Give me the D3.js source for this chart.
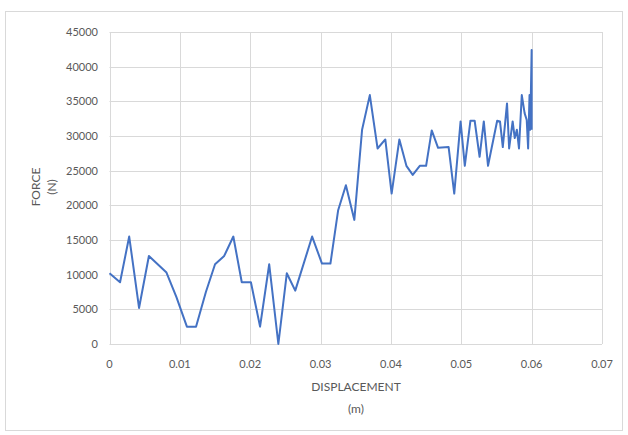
<!DOCTYPE html>
<html lang="en">
<head>
    <meta charset="UTF-8">
    <title>Force vs displacement</title>
    <script src="https://d3js.org/d3.v7.min.js"></script>
    <style>
        body { margin: 0; background: #fff; }
        text { font-family: Lato, "Open Sans", sans-serif; fill: #595959; }
    </style>
</head>
<body>
<script>
    const width  = 628;
    const height = 435;

    // displacement (m)
    const displacement = [
        0, 0.0015, 0.0028, 0.0042, 0.0056, 0.0081, 0.0095, 0.011, 0.0123, 0.0137,
        0.015, 0.0163, 0.0176, 0.0188, 0.0201, 0.0214, 0.0227, 0.024, 0.0252, 0.0264,
        0.0288, 0.0302, 0.0314, 0.0325, 0.0336, 0.0348, 0.0359, 0.037, 0.0381, 0.0392,
        0.0401, 0.0412, 0.0422, 0.0431, 0.0441, 0.045, 0.0458, 0.0467, 0.0482, 0.049,
        0.0499, 0.0505, 0.0513, 0.0519, 0.0526, 0.0532, 0.0538, 0.0551, 0.0555, 0.0559,
        0.0565, 0.0568, 0.0573, 0.0576, 0.0579, 0.0582, 0.0586, 0.059, 0.0593, 0.0595,
        0.0597, 0.0598, 0.06, 0.06
    ];
    // force (N)
    const force = [
        10200, 8900, 15500, 5200, 12700, 10300, 6800, 2500, 2500, 7500,
        11500, 12700, 15500, 8900, 8900, 2500, 11500, 0, 10200, 7700,
        15500, 11600, 11600, 19300, 22900, 17900, 30900, 35900, 28200, 29500,
        21700, 29500, 25700, 24400, 25700, 25700, 30800, 28300, 28400, 21700,
        32100, 25700, 32200, 32200, 27000, 32100, 25700, 32200, 32100, 28400,
        34700, 28200, 32100, 29700, 30900, 28200, 35900, 33300, 32300, 28200,
        35900, 30900, 42400, 30900
    ];
    const xTicks = [0, 0.01, 0.02, 0.03, 0.04, 0.05, 0.06, 0.07];
    const yTicks = [0, 5000, 10000, 15000, 20000, 25000, 30000, 35000, 40000, 45000];

    const data = displacement.map((d, i) => [d, force[i]]);

    const svg = d3.select("body").append("svg").attr("width", width).attr("height", height);

    // chart frame
    svg.append("rect")
        .attr("x", 5.5).attr("y", 11.5)
        .attr("width", 617).attr("height", 419)
        .attr("fill", "#fff")
        .attr("stroke", "#d9d9d9");

    const scaleX = d3.scaleLinear().domain([0, 0.07]).range([109.5, 602]);
    const scaleY = d3.scaleLinear().domain([0, 45000]).range([344, 32]);

    // grid
    svg.append("g").selectAll("line").data(xTicks).join("line")
        .attr("x1", d => Math.round(scaleX(d)) + 0.5).attr("x2", d => Math.round(scaleX(d)) + 0.5)
        .attr("y1", scaleY(0)).attr("y2", scaleY(45000))
        .attr("stroke", "#d9d9d9");
    svg.append("g").selectAll("line").data(yTicks).join("line")
        .attr("y1", d => Math.round(scaleY(d)) + 0.5).attr("y2", d => Math.round(scaleY(d)) + 0.5)
        .attr("x1", scaleX(0)).attr("x2", scaleX(0.07))
        .attr("stroke", "#d9d9d9");

    // tick labels
    svg.append("g").selectAll("text").data(yTicks).join("text")
        .attr("x", 98).attr("y", d => scaleY(d) + 4)
        .attr("text-anchor", "end").attr("font-size", 11)
        .text(d => d);
    svg.append("g").selectAll("text").data(xTicks).join("text")
        .attr("x", d => scaleX(d)).attr("y", 368)
        .attr("text-anchor", "middle").attr("font-size", 11)
        .text(d => d);

    // axis titles
    svg.append("text").attr("x", 356).attr("y", 391).attr("text-anchor", "middle")
        .attr("font-size", 12).text("DISPLACEMENT");
    svg.append("text").attr("x", 356).attr("y", 413).attr("text-anchor", "middle")
        .attr("font-size", 12).text("(m)");
    svg.append("text").attr("transform", "translate(40,187) rotate(-90)")
        .attr("text-anchor", "middle").attr("font-size", 12).text("FORCE");
    svg.append("text").attr("transform", "translate(56,187) rotate(-90)")
        .attr("text-anchor", "middle").attr("font-size", 12).text("(N)");

    const line = d3.line()
        .x(d => scaleX(d[0]))
        .y(d => scaleY(d[1]));

    svg.append("path")
        .attr("d", line(data))
        .attr("fill", "none")
        .attr("stroke", "#4472c4")
        .attr("stroke-width", 2)
        .attr("stroke-linejoin", "round");
</script>
</body>
</html>
